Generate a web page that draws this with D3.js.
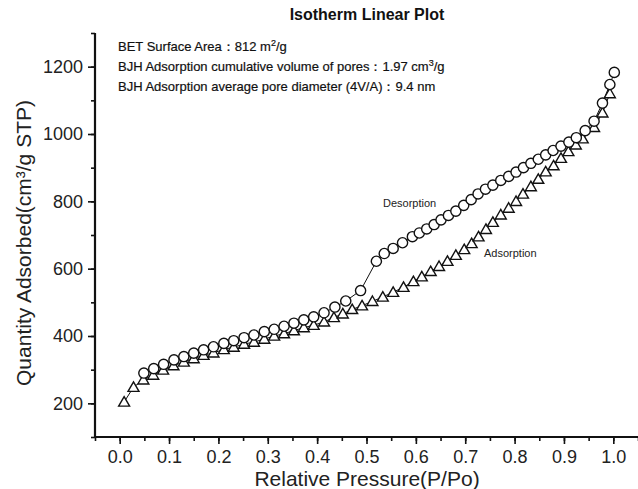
<!DOCTYPE html>
<html>
<head>
<meta charset="utf-8">
<script src="https://cdn.jsdelivr.net/npm/d3@7"></script>
<style>
  html, body { margin: 0; padding: 0; background: #fff; }
  svg { display: block; font-family: "Liberation Sans", Arial, sans-serif; }
</style>
</head>
<body>
<svg id="chart" width="638" height="489"></svg>
<script>
// ---- data ----
const adsP = [0.009,0.028,0.048,0.068,0.088,0.109,0.130,0.150,0.170,0.190,0.211,0.231,0.252,0.272,0.293,0.313,0.333,0.353,0.373,0.393,0.414,0.434,0.452,0.471,0.491,0.512,0.533,0.554,0.575,0.595,0.612,0.630,0.647,0.664,0.681,0.698,0.713,0.727,0.742,0.756,0.772,0.788,0.803,0.817,0.833,0.848,0.863,0.879,0.894,0.909,0.924,0.938,0.961,0.978,0.993];
const adsV = [204,248,270,284,299,312,323,333,343,350,360,367,376,382,391,400,407,416,425,432,442,455,466,479,490,503,516,530,545,562,576,592,607,622,640,657,675,695,717,738,760,780,800,822,844,866,888,906,928,948,968,986,1020,1063,1120];
const desP = [0.049,0.069,0.089,0.110,0.130,0.150,0.170,0.190,0.211,0.231,0.252,0.272,0.293,0.313,0.333,0.353,0.373,0.393,0.414,0.436,0.458,0.488,0.520,0.536,0.554,0.573,0.593,0.607,0.622,0.637,0.651,0.666,0.681,0.697,0.712,0.726,0.741,0.756,0.772,0.788,0.803,0.818,0.833,0.848,0.863,0.878,0.894,0.910,0.925,0.943,0.961,0.978,0.993,1.002];
const desV = [290,303,316,329,339,349,359,368,378,386,395,403,413,420,429,438,448,457,469,486,504,535,622,645,660,677,695,706,718,731,745,758,771,788,805,822,836,848,862,874,887,900,913,925,938,951,964,976,989,1010,1038,1092,1147,1183];
const xTicks = [0.0,0.1,0.2,0.3,0.4,0.5,0.6,0.7,0.8,0.9,1.0];
const yTicks = [200,400,600,800,1000,1200];
const titleText = "Isotherm Linear Plot";
const xLabel = "Relative Pressure(P/Po)";
const yLabel = "Quantity Adsorbed(cm\u00B3/g STP)";
const infoLines = [
  ["BET Surface Area\uFF1A812 m", "2", "/g"],
  ["BJH Adsorption cumulative volume of pores\uFF1A1.97 cm", "3", "/g"],
  ["BJH Adsorption average pore diameter (4V/A)\uFF1A9.4 nm", "", ""]
];

// ---- layout ----
const svg = d3.select("#chart");
const x = d3.scaleLinear().domain([-0.05, 1.05]).range([95, 638]);
const y = d3.scaleLinear().domain([100, 1300]).range([437, 33]);
const ink = "#111";

// axes
const xMinor = d3.range(-0.05, 1.06, 0.05).map(v => +v.toFixed(2));
const yMinor = d3.range(100, 1301, 100);

const gx = svg.append("g").attr("transform", `translate(0,${y(100)})`);
gx.call(d3.axisBottom(x).tickValues(xMinor).tickSize(4).tickFormat(""));
gx.call(g => g.selectAll(".tick line").attr("stroke", ink).attr("stroke-width", 1.6));
gx.call(g => g.select(".domain").remove());
const gx2 = svg.append("g").attr("transform", `translate(0,${y(100)})`);
gx2.call(d3.axisBottom(x).tickValues(xTicks).tickSize(7).tickPadding(6).tickFormat(d3.format(".1f")));
gx2.select(".domain").remove();
gx2.selectAll(".tick line").attr("stroke", ink).attr("stroke-width", 1.6);
gx2.selectAll(".tick text").attr("font-size", 18).attr("fill", "#222").attr("font-family", "Liberation Sans, Arial, sans-serif");

const gy = svg.append("g").attr("transform", `translate(${x(-0.05)},0)`);
gy.call(d3.axisLeft(y).tickValues(yMinor).tickSize(4).tickFormat(""));
gy.select(".domain").remove();
gy.selectAll(".tick line").attr("stroke", ink).attr("stroke-width", 1.6);
const gy2 = svg.append("g").attr("transform", `translate(${x(-0.05)},0)`);
gy2.call(d3.axisLeft(y).tickValues(yTicks).tickSize(7).tickPadding(5).tickFormat(d3.format("d")));
gy2.select(".domain").remove();
gy2.selectAll(".tick line").attr("stroke", ink).attr("stroke-width", 1.6);
gy2.selectAll(".tick text").attr("font-size", 18).attr("fill", "#222").attr("font-family", "Liberation Sans, Arial, sans-serif");

// axis lines
svg.append("line").attr("x1", x(-0.05)).attr("x2", 638).attr("y1", y(100)).attr("y2", y(100))
  .attr("stroke", ink).attr("stroke-width", 2.2);
svg.append("line").attr("x1", x(-0.05)).attr("x2", x(-0.05)).attr("y1", y(1300)).attr("y2", y(100) + 1)
  .attr("stroke", ink).attr("stroke-width", 2.2);

// series
const ads = adsP.map((p, i) => ({p, v: adsV[i]}));
const des = desP.map((p, i) => ({p, v: desV[i]}));
const line = d3.line().x(d => x(d.p)).y(d => y(d.v));
svg.append("path").datum(ads).attr("d", line).attr("fill", "none").attr("stroke", ink).attr("stroke-width", 1);
svg.append("path").datum(des).attr("d", line).attr("fill", "none").attr("stroke", ink).attr("stroke-width", 1);

const tri = d3.symbol().type(d3.symbolTriangle).size(52);
svg.append("g").selectAll("path").data(ads).join("path")
  .attr("d", tri)
  .attr("transform", d => `translate(${x(d.p)},${y(d.v) + 1})`)
  .attr("fill", "#fff").attr("stroke", ink).attr("stroke-width", 1.4);

svg.append("g").selectAll("circle").data(des).join("circle")
  .attr("cx", d => x(d.p)).attr("cy", d => y(d.v)).attr("r", 5.1)
  .attr("fill", "#fff").attr("stroke", ink).attr("stroke-width", 1.4);

// labels
svg.append("text").attr("x", 367).attr("y", 20).attr("text-anchor", "middle")
  .attr("font-size", 16).attr("font-weight", "bold").attr("fill", "#111").text(titleText);

svg.append("text").attr("x", 367).attr("y", 486).attr("text-anchor", "middle")
  .attr("font-size", 21).attr("fill", "#222").text(xLabel);

svg.append("text").attr("transform", "translate(31,243) rotate(-90)").attr("text-anchor", "middle")
  .attr("font-size", 21).attr("fill", "#222").text(yLabel);

const info = svg.append("g");
infoLines.forEach((ln, i) => {
  const t = info.append("text").attr("x", 118).attr("y", 51 + i * 20)
    .attr("font-size", 13).attr("fill", "#111").attr("stroke", "#111").attr("stroke-width", 0.2);
  t.append("tspan").text(ln[0]);
  if (ln[1]) t.append("tspan").attr("font-size", 9).attr("dy", -5).text(ln[1]);
  if (ln[2]) t.append("tspan").attr("dy", 5).text(ln[2]);
});

svg.append("text").attr("x", 383).attr("y", 207).attr("font-size", 11).attr("fill", "#222").text("Desorption");
svg.append("text").attr("x", 484).attr("y", 257).attr("font-size", 11).attr("fill", "#222").text("Adsorption");
</script>
</body>
</html>
